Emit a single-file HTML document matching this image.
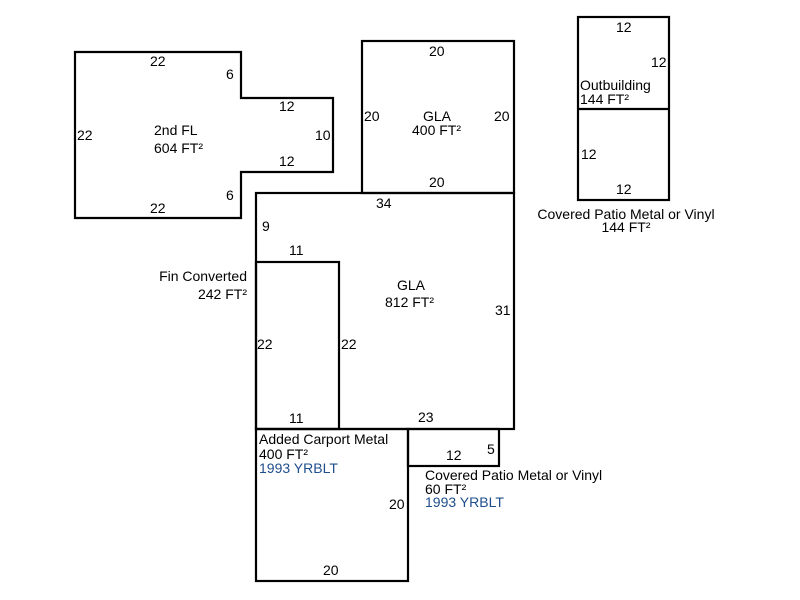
<!DOCTYPE html>
<html><head><style>
html,body{margin:0;padding:0;background:#fff;width:800px;height:600px;overflow:hidden}
svg text{font-family:"Liberation Sans",Arial,sans-serif;font-size:14px;fill:#000}
.b{fill:#1f4e8c}
</style></head><body>
<svg width="800" height="600" viewBox="0 0 800 600" xmlns="http://www.w3.org/2000/svg">
<g fill="none" stroke="#000" stroke-width="2.2">
<polygon points="75,52 241,52 241,98 333,98 333,172 241,172 241,218 75,218"/>
<rect x="362" y="41" width="152" height="152"/>
<rect x="256" y="193" width="258" height="236"/>
<rect x="256" y="262" width="83" height="167"/>
<rect x="256" y="429" width="152" height="152"/>
<rect x="408" y="429" width="91" height="37"/>
<rect x="578" y="17" width="91" height="183"/>
<line x1="578" y1="109" x2="669" y2="109"/>
</g>
<text x="150" y="66">22</text>
<text x="226" y="79">6</text>
<text x="279" y="111">12</text>
<text x="315" y="140">10</text>
<text x="279" y="166">12</text>
<text x="226" y="200">6</text>
<text x="150" y="213">22</text>
<text x="77" y="140">22</text>
<text x="154" y="135">2nd FL</text>
<text x="154" y="153">604 FT²</text>
<text x="429" y="56">20</text>
<text x="364" y="121">20</text>
<text x="494" y="121">20</text>
<text x="423" y="121">GLA</text>
<text x="412" y="135">400 FT²</text>
<text x="429" y="187">20</text>
<text x="376" y="208">34</text>
<text x="262" y="231">9</text>
<text x="289" y="255">11</text>
<text x="397" y="290">GLA</text>
<text x="385" y="307">812 FT²</text>
<text x="495" y="315">31</text>
<text x="257" y="349">22</text>
<text x="341" y="349">22</text>
<text x="289" y="423">11</text>
<text x="418" y="422">23</text>
<text x="247" y="281" text-anchor="end">Fin Converted</text>
<text x="247" y="299" text-anchor="end">242 FT²</text>
<text x="259" y="444">Added Carport Metal</text>
<text x="259" y="459">400 FT²</text>
<text x="259" y="473" class="b">1993 YRBLT</text>
<text x="389" y="509">20</text>
<text x="323" y="575">20</text>
<text x="446" y="460">12</text>
<text x="487" y="454">5</text>
<text x="425" y="480">Covered Patio Metal or Vinyl</text>
<text x="425" y="494">60 FT²</text>
<text x="425" y="507" class="b">1993 YRBLT</text>
<text x="616" y="32">12</text>
<text x="651" y="67">12</text>
<text x="580" y="90">Outbuilding</text>
<text x="580" y="104">144 FT²</text>
<text x="581" y="159">12</text>
<text x="616" y="194">12</text>
<text x="626" y="219" text-anchor="middle">Covered Patio Metal or Vinyl</text>
<text x="626" y="232" text-anchor="middle">144 FT²</text>
</svg>
</body></html>
